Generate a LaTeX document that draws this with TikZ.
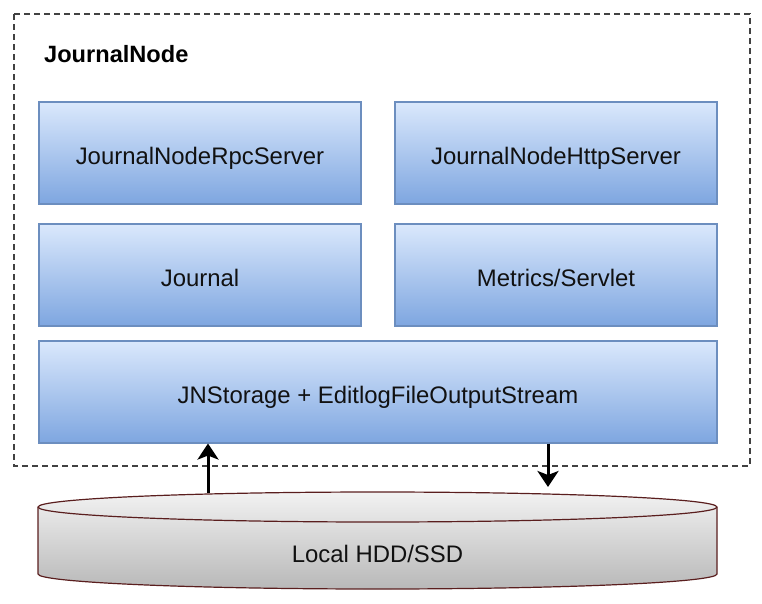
\documentclass[tikz,border=0pt]{standalone}
\usepackage{fontspec}
\setmainfont{Liberation Sans}
\usepackage{xcolor}
\usepackage{tikz}
\usetikzlibrary{arrows.meta}
\definecolor{blueTop}{HTML}{DAE8FC}
\definecolor{blueBot}{HTML}{7EA6E0}
\definecolor{blueEdge}{HTML}{6C8EBF}
\definecolor{greyTop}{HTML}{F2F2F2}
\definecolor{greyBot}{HTML}{B8B8B8}
\definecolor{maroon}{HTML}{5A1E1E}
\definecolor{ink}{HTML}{111111}
\tikzset{
  frame/.style={draw=ink!80, line width=1.2pt, dash pattern=on 6pt off 4pt},
  comp/.style={draw=blueEdge, line width=1.1pt, top color=blueTop, bottom color=blueBot,
    minimum width=322pt, minimum height=102pt, inner sep=0pt,
    text height=23pt, text depth=0pt,
    text=ink, font=\fontsize{23.9}{28}\selectfont},
  wide/.style={comp, minimum width=678pt},
  title/.style={text=black, font=\fontsize{23.6}{28}\selectfont\bfseries, inner sep=0pt},
  lab/.style={text=ink, font=\fontsize{23.9}{28}\selectfont, inner sep=0pt},
  diskfill/.style={top color=greyTop, bottom color=greyBot},
  diskline/.style={draw=maroon, line width=1.2pt, line join=round},
  flow/.style={draw=black, line width=3pt, -{Stealth[length=16pt,width=21pt,inset=4pt]}},
}

\begin{document}
\begin{tikzpicture}[x=1pt, y=-1pt]
  \useasboundingbox (0,0) rectangle (762,603);
  % outer journal node frame
  \draw[frame] (14,14) rectangle (750,466);
  \node[title, anchor=base west] (jn) at (44,62) {JournalNode};
  % components
  \node[comp] (rpc) at (200,153) {JournalNodeRpcServer};
  \node[comp] (http) at (556,153) {JournalNodeHttpServer};
  \node[comp] (journal) at (200,275) {Journal};
  \node[comp] (metrics) at (556,275) {Metrics/Servlet};
  \node[wide] (store) at (378,392) {JNStorage + EditlogFileOutputStream};
  % local disk
  \path[diskfill] (38,507) -- (38,574)
    arc[start angle=180, end angle=0, x radius=339.5, y radius=15] -- (717,507)
    arc[start angle=0, end angle=-180, x radius=339.5, y radius=15] -- cycle;
  \draw[diskline] (38,507) -- (38,574)
    arc[start angle=180, end angle=0, x radius=339.5, y radius=15] -- (717,507)
    arc[start angle=0, end angle=-180, x radius=339.5, y radius=15] -- cycle;
  \draw[diskline] (38,507) arc[start angle=180, end angle=0, x radius=339.5, y radius=15];
  \node[lab] (hdd) at (377.5,554) {Local HDD/SSD};
  % reads and writes
  \coordinate (readfoot) at (208,493);
  \coordinate (writetip) at (548,487);
  \draw[flow] (readfoot) -- (readfoot |- store.south);
  \draw[flow] (writetip |- store.south) -- (writetip);
\end{tikzpicture}
\end{document}
